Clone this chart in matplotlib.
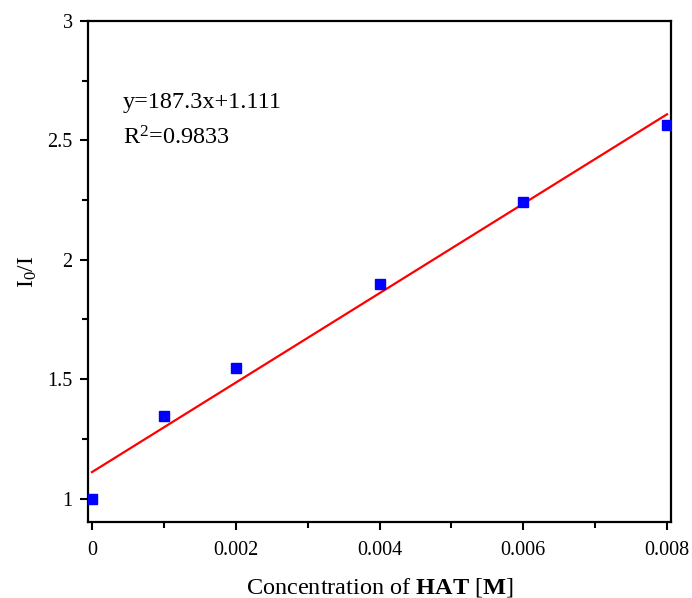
import matplotlib
matplotlib.use("Agg")
import matplotlib.pyplot as plt
import numpy as np
from matplotlib.ticker import FixedLocator

conc = [0.0, 0.001, 0.002, 0.004, 0.006, 0.008]
ratio = [1.0, 1.346, 1.547, 1.899, 2.242, 2.565]
slope = 187.3
intercept = 1.111
xticks = [0, 0.002, 0.004, 0.006, 0.008]
xticklabels = ["0", "0.002", "0.004", "0.006", "0.008"]
yticks = [1, 1.5, 2, 2.5, 3]
yticklabels = ["1", "1.5", "2", "2.5", "3"]

plt.rcParams['font.family'] = ['Liberation Serif', 'DejaVu Serif']
plt.rcParams['mathtext.fontset'] = 'custom'
plt.rcParams['mathtext.rm'] = 'Liberation Serif'
plt.rcParams['mathtext.it'] = 'Liberation Serif:italic'
plt.rcParams['mathtext.bf'] = 'Liberation Serif:bold'

fig = plt.figure(figsize=(6.92, 5.98), dpi=100)
ax = fig.add_axes([88/692, 1-522/598, (671-88)/692, (522-21)/598])

xfit = np.array([conc[0], conc[-1]])
ax.plot(xfit, slope*xfit + intercept, color='#ff0000', lw=1.6, zorder=2)
ax.plot(conc, ratio, linestyle='none', marker='s', markersize=7.2, color='#0000ff', zorder=3)

ax.set_xlim(-0.0000556, 0.0080556)
ax.set_ylim(0.902, 3.0)
ax.set_xticks(xticks)
ax.set_xticklabels(xticklabels)
ax.set_yticks(yticks)
ax.set_yticklabels(yticklabels)
ax.xaxis.set_minor_locator(FixedLocator([0.001, 0.003, 0.005, 0.007]))
ax.yaxis.set_minor_locator(FixedLocator([1.25, 1.75, 2.25, 2.75]))
ax.tick_params(axis='both', which='major', direction='out', length=6, width=1.5, labelsize=14.5, top=False, right=False)
ax.tick_params(axis='both', which='minor', direction='out', length=4, width=1.5, top=False, right=False)
ax.tick_params(axis='x', which='major', pad=8)
ax.tick_params(axis='y', which='major', pad=5)
for s in ax.spines.values():
    s.set_linewidth(1.6)

ax.set_xlabel(r'Concentration of $\mathbf{HAT}$ [$\mathbf{M}$]', fontsize=17.5, labelpad=11)
ax.set_ylabel(r'I$_0$/I', fontsize=17, labelpad=6)

ax.text(123/692, 1-108/598, 'y=187.3x+1.111', transform=fig.transFigure, fontsize=17.5, ha='left', va='baseline')
ax.text(123/692, 1-144/598, r'R$^2$=0.9833', transform=fig.transFigure, fontsize=17.5, ha='left', va='baseline')

fig.savefig('out.png', dpi=100)
